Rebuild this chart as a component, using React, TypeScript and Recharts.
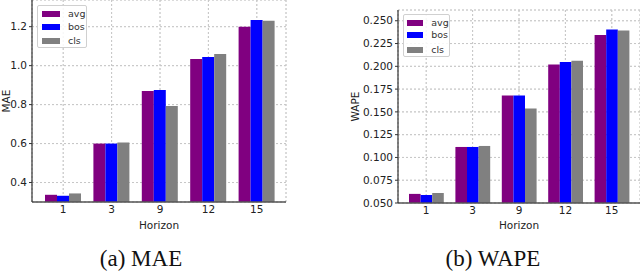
import { BarChart, Bar, XAxis, YAxis, CartesianGrid, Legend } from "recharts";

const horizons = ["1", "3", "9", "12", "15"];

const maeAvg = [0.337, 0.6, 0.87, 1.034, 1.2];
const maeBos = [0.332, 0.6, 0.875, 1.045, 1.234];
const maeCls = [0.344, 0.605, 0.793, 1.06, 1.231];

const wapeAvg = [0.06, 0.1115, 0.168, 0.2021, 0.2343];
const wapeBos = [0.0588, 0.1115, 0.168, 0.2046, 0.2405];
const wapeCls = [0.061, 0.1126, 0.1537, 0.206, 0.2394];

const maeTicks = [0.4, 0.6, 0.8, 1.0, 1.2];
const wapeTicks = [0.05, 0.075, 0.1, 0.125, 0.15, 0.175, 0.2, 0.225, 0.25];

const seriesNames = ["avg", "bos", "cls"];
const colors = ["#800080", "#0000ff", "#808080"];

const maeData = horizons.map((h, i) => ({ h, avg: maeAvg[i], bos: maeBos[i], cls: maeCls[i] }));
const wapeData = horizons.map((h, i) => ({ h, avg: wapeAvg[i], bos: wapeBos[i], cls: wapeCls[i] }));

const font = "DejaVu Sans, sans-serif";

const LegendBox = ({ payload, box }: any) => (
  <div
    style={{
      width: box.w,
      height: box.h,
      boxSizing: "border-box",
      border: "1px solid #d0d0d0",
      borderRadius: 2,
      background: "rgba(255,255,255,0.85)",
      position: "relative",
      fontFamily: font,
      fontSize: 9.5,
      color: "#333",
    }}
  >
    {(payload || []).map((p: any, i: number) => (
      <div key={p.value} style={{ position: "absolute", top: box.rows[i] - 7, left: 0, height: 14, width: box.w }}>
        <div
          style={{
            position: "absolute",
            left: box.sx,
            top: 4,
            width: box.sw,
            height: 6,
            background: p.color,
          }}
        />
        <div style={{ position: "absolute", left: box.tx, top: 0, lineHeight: "14px" }}>{p.value}</div>
      </div>
    ))}
  </div>
);

const Panel = (props: any) => {
  const { data, ticks, domain, fmt, title, g } = props;
  return (
    <BarChart
      width={320}
      height={240}
      data={data}
      margin={{ top: g.top, right: g.right, bottom: 0, left: 0 }}
      barGap={0}
    >
      <CartesianGrid stroke="#c4c4c4" strokeDasharray="2 2" />
      <XAxis
        dataKey="h"
        height={g.xh}
        padding={{ left: g.padL, right: g.padR }}
        tickLine={false}
        tickSize={3}
        tickMargin={1}
        axisLine={{ stroke: "#555", strokeWidth: 1.3 }}
        tick={{ fontFamily: font, fontSize: 10.5, fill: "#222" }}
        label={{
          content: (lp: any) => {
            const vb = lp.viewBox;
            return (
              <text x={vb.x + vb.width / 2} y={228.5} textAnchor="middle" fontFamily={font} fontSize={10.5} fill="#222">
                Horizon
              </text>
            );
          },
        }}
      />
      <YAxis
        width={g.yw}
        domain={domain}
        ticks={ticks}
        allowDataOverflow
        interval={0}
        tickFormatter={fmt}
        tickSize={3}
        tickMargin={2}
        tickLine={{ stroke: "#333" }}
        axisLine={{ stroke: "#333", strokeWidth: 1.2 }}
        tick={{ fontFamily: font, fontSize: 10.5, fill: "#222" }}
        label={{
          content: (lp: any) => {
            const vb = lp.viewBox;
            const cy = vb.y + vb.height / 2;
            return (
              <text
                x={g.lx}
                y={cy}
                textAnchor="middle"
                dominantBaseline="central"
                transform={`rotate(-90, ${g.lx}, ${cy})`}
                fontFamily={font}
                fontSize={10.5}
                fill="#222"
              >
                {title}
              </text>
            );
          },
        }}
      />
      <Legend
        layout="horizontal"
        verticalAlign="middle"
        align="center"
        wrapperStyle={{ left: g.lgx, top: g.lgy, width: g.lg.w, height: g.lg.h }}
        content={(lp: any) => <LegendBox payload={lp.payload} box={g.lg} />}
      />
      {seriesNames.map((s, i) => (
        <Bar key={s} dataKey={s} fill={colors[i]} barSize={g.bw} isAnimationActive={false} />
      ))}
      <CartesianGrid stroke="rgba(200,200,200,0.55)" strokeDasharray="2 2" />
    </BarChart>
  );
};

const maeGeom = {
  top: 0,
  right: 34,
  xh: 38,
  yw: 32,
  padL: 7,
  padR: 5,
  bw: 12,
  lx: 6,
  lgx: 37,
  lgy: 5,
  lg: { w: 50, h: 43, rows: [8, 21, 35], sx: 4, sw: 18, tx: 30 },
};

const wapeGeom = {
  top: 10,
  right: 0,
  xh: 37,
  yw: 78,
  padL: 5,
  padR: 5,
  bw: 11.6,
  lx: 34.7,
  lgx: 82.7,
  lgy: 14,
  lg: { w: 47, h: 43, rows: [8.3, 20.3, 34.7], sx: 3.5, sw: 16, tx: 27.5 },
};

const captionStyle: any = {
  position: "absolute",
  top: 244,
  width: 320,
  textAlign: "center",
  fontFamily: "Liberation Serif, serif",
  fontSize: 23,
  lineHeight: "30px",
  color: "#111",
};

export default function App() {
  return (
    <div style={{ position: "absolute", left: 0, top: 0, width: 640, height: 276, background: "#fff", overflow: "hidden" }}>
      <div style={{ position: "absolute", left: 0, top: 0 }}>
        <Panel data={maeData} ticks={maeTicks} domain={[0.3, 1.337]} fmt={(v: number) => v.toFixed(1)} title="MAE" g={maeGeom} />
      </div>
      <div style={{ position: "absolute", left: 320, top: 0 }}>
        <Panel data={wapeData} ticks={wapeTicks} domain={[0.05, 0.2618]} fmt={(v: number) => v.toFixed(3)} title="WAPE" g={wapeGeom} />
      </div>
      <div style={{ ...captionStyle, left: -19 }}>(a) MAE</div>
      <div style={{ ...captionStyle, left: 333 }}>(b) WAPE</div>
    </div>
  );
}
